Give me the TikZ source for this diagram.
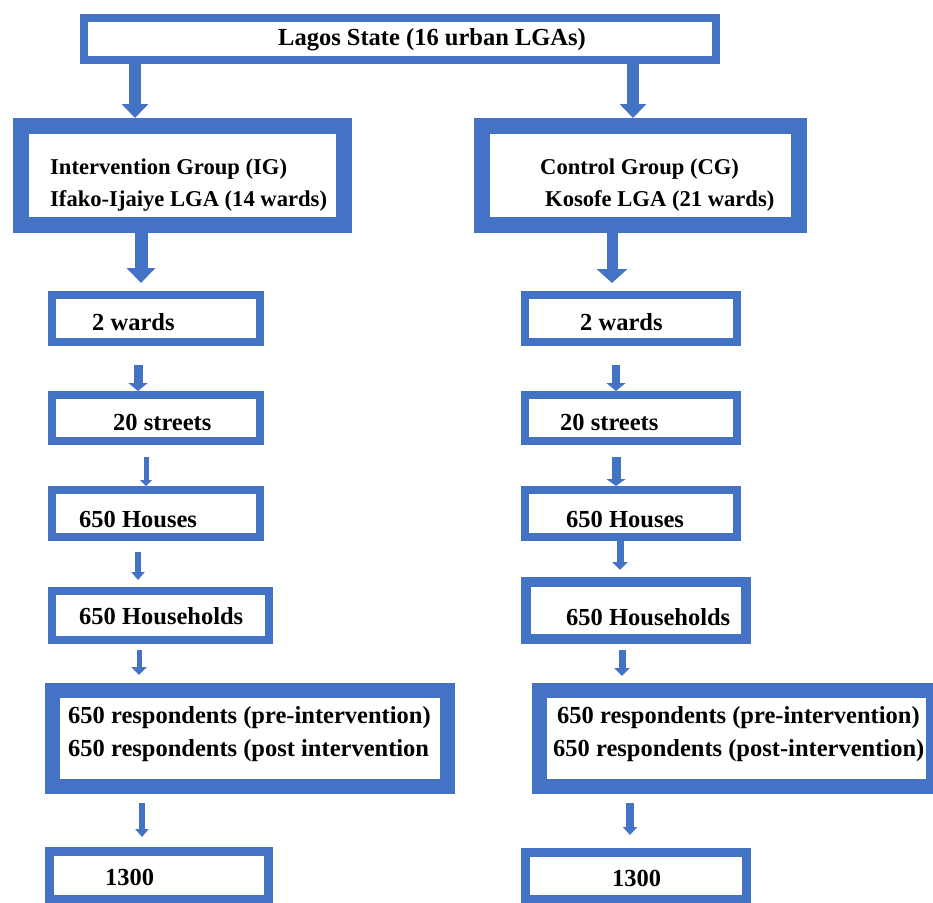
\documentclass[tikz,border=0pt]{standalone}
\usepackage{fontspec}
\setmainfont{Liberation Serif}
\usetikzlibrary{arrows.meta}
\definecolor{bb}{RGB}{68,114,196}
\tikzset{
  bx/.style={draw=bb, fill=white, rectangle, inner sep=0pt},
  tx/.style={anchor=base west, inner sep=0pt, font=\bfseries\fontsize{24.5}{30}\selectfont},
  txs/.style={anchor=base west, inner sep=0pt, font=\bfseries\fontsize{22.6}{28}\selectfont},
  arr/.style n args={3}{draw=bb, line width=#1pt, arrows={-Triangle[width=#2pt,length=#3pt]}}
}
\begin{document}
\begin{tikzpicture}[x=1pt,y=-1pt]
\useasboundingbox (0,0) rectangle (933,902);
% boxes
\node[bx, line width=8pt, outer sep=4pt, minimum width=632pt, minimum height=42pt] (top) at (400,39) {};
\node[bx, line width=16pt, outer sep=8pt, minimum width=323pt, minimum height=99pt] (ig) at (182.5,175.5) {};
\node[bx, line width=16pt, outer sep=8pt, minimum width=317pt, minimum height=99pt] (cg) at (640.5,175.5) {};
\node[bx, line width=8pt, outer sep=4pt, minimum width=208pt, minimum height=47pt] (lw) at (156,318.5) {};
\node[bx, line width=8pt, outer sep=4pt, minimum width=212pt, minimum height=47pt] (rw) at (631,318.5) {};
\node[bx, line width=8pt, outer sep=4pt, minimum width=208pt, minimum height=46pt] (ls) at (156,418) {};
\node[bx, line width=8pt, outer sep=4pt, minimum width=212pt, minimum height=46pt] (rs) at (631,418) {};
\node[bx, line width=8pt, outer sep=4pt, minimum width=208pt, minimum height=47pt] (lh) at (156,513.5) {};
\node[bx, line width=8pt, outer sep=4pt, minimum width=212pt, minimum height=47pt] (rh) at (631,513.5) {};
\node[bx, line width=8pt, outer sep=4pt, minimum width=217pt, minimum height=49pt] (lhh) at (160.5,615.5) {};
\node[bx, line width=10pt, outer sep=5pt, minimum width=220pt, minimum height=57pt] (rhh) at (636,610.5) {};
\node[bx, line width=15pt, outer sep=7.5pt, minimum width=395pt, minimum height=96pt] (lr) at (250,738.5) {};
\node[bx, line width=15pt, outer sep=7.5pt, minimum width=394pt, minimum height=96pt] (rr) at (736.5,738.5) {};
\node[bx, line width=9pt, outer sep=4.5pt, minimum width=219pt, minimum height=48pt] (lt) at (159,875.5) {};
\node[bx, line width=9pt, outer sep=4.5pt, minimum width=221pt, minimum height=47pt] (rt) at (636,876) {};
% texts
\node[tx] (ttop) at (278,45) {Lagos State (16 urban LGAs)};
\node[txs] (tig1) at (50,174) {Intervention Group (IG)};
\node[txs] (tig2) at (50,206) {Ifako-Ijaiye LGA (14 wards)};
\node[txs] (tcg1) at (540,174) {Control Group (CG)};
\node[txs] (tcg2) at (545,206) {Kosofe LGA (21 wards)};
\node[tx] (tlw) at (92,330) {2 wards};
\node[tx] (trw) at (580,330) {2 wards};
\node[tx] (tls) at (113,430) {20 streets};
\node[tx] (trs) at (560,430) {20 streets};
\node[tx] (tlh) at (79,527) {650 Houses};
\node[tx] (trh) at (566,527) {650 Houses};
\node[tx] (tlhh) at (79,624) {650 Households};
\node[tx] (trhh) at (566,625) {650 Households};
\node[tx] (tlr1) at (68,723) {650 respondents (pre-intervention)};
\node[tx] (tlr2) at (68,756) {650 respondents (post intervention};
\node[tx] (trr1) at (557,723) {650 respondents (pre-intervention)};
\node[tx] (trr2) at (553,756) {650 respondents (post-intervention)};
\node[tx] (tlt) at (105,885) {1300};
\node[tx] (trt) at (612,886) {1300};
% arrow columns
\coordinate (a1) at (135,0);
\coordinate (a2) at (633,0);
\coordinate (a3) at (141,0);
\coordinate (a4) at (612,0);
\coordinate (a5) at (138,0);
\coordinate (a6) at (616,0);
\coordinate (a7) at (146,0);
\coordinate (a8) at (616,0);
\coordinate (a9) at (138,0);
\coordinate (a10) at (620,0);
\coordinate (a11) at (139,0);
\coordinate (a12) at (622,0);
\coordinate (a13) at (142,0);
\coordinate (a14) at (630,0);
% arrows
\draw[arr={12}{26}{14}] (top.south -| a1) -- (ig.north -| a1);
\draw[arr={12}{26}{14}] (top.south -| a2) -- (cg.north -| a2);
\draw[arr={13}{28}{15}, shorten >=8pt] (ig.south -| a3) -- (lw.north -| a3);
\draw[arr={11}{30}{14}, shorten >=8pt] (cg.south -| a4) -- (rw.north -| a4);
\draw[arr={9}{19}{8}, shorten <=19pt] (lw.south -| a5) -- (ls.north -| a5);
\draw[arr={8}{19}{8}, shorten <=19pt] (rw.south -| a6) -- (rs.north -| a6);
\draw[arr={5}{12}{6}, shorten <=12pt] (ls.south -| a7) -- (lh.north -| a7);
\draw[arr={9}{19}{7}, shorten <=12pt] (rs.south -| a8) -- (rh.north -| a8);
\draw[arr={6}{13}{8}, shorten <=11pt, shorten >=7pt] (lh.south -| a9) -- (lhh.north -| a9);
\draw[arr={7}{15}{8}, shorten >=7pt] (rh.south -| a10) -- (rhh.north -| a10);
\draw[arr={5}{15}{8}, shorten <=6pt, shorten >=8pt] (lhh.south -| a11) -- (lr.north -| a11);
\draw[arr={7}{15}{8}, shorten <=6pt, shorten >=7pt] (rhh.south -| a12) -- (rr.north -| a12);
\draw[arr={6}{13}{8}, shorten <=9pt, shorten >=10pt] (lr.south -| a13) -- (lt.north -| a13);
\draw[arr={8}{14}{8}, shorten <=9pt, shorten >=13pt] (rr.south -| a14) -- (rt.north -| a14);
\end{tikzpicture}
\end{document}
